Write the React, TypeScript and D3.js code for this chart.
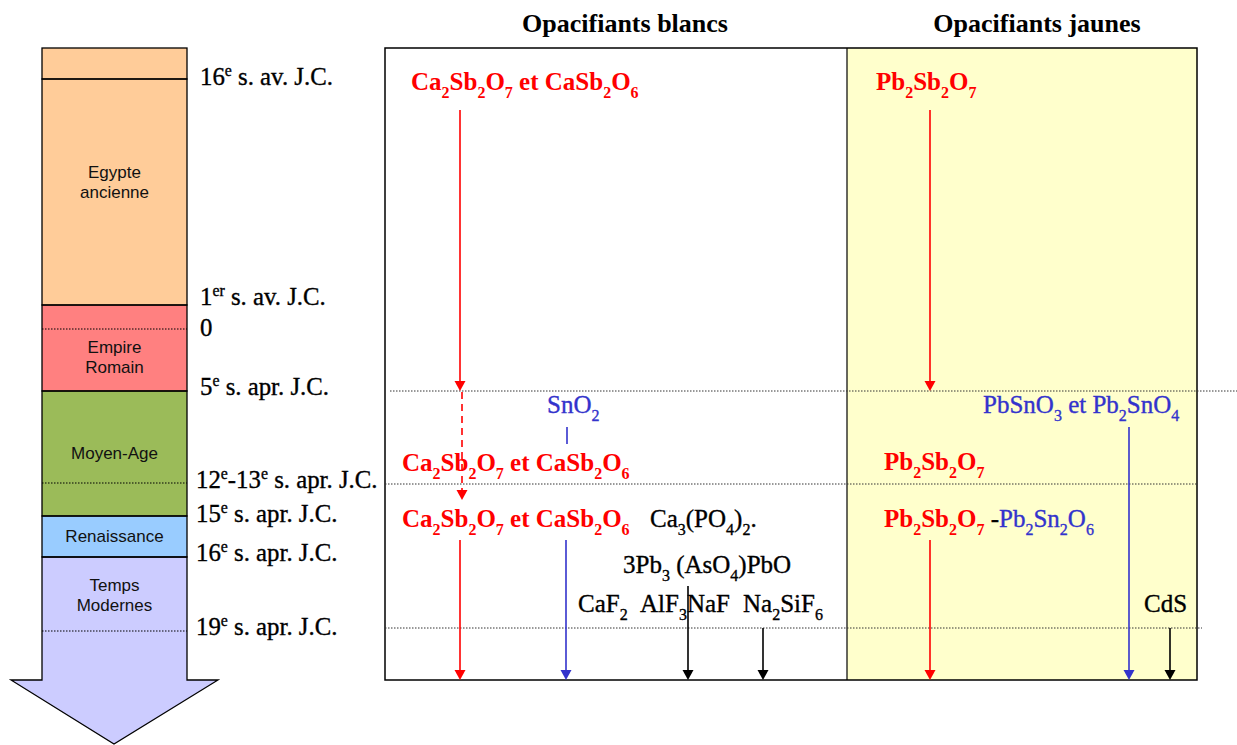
import * as d3 from 'd3'

// vertical positions are in "chart units" = pixels below the top of the frame
const periodNames = [[''], ['Egypte', 'ancienne'], ['Empire', 'Romain'], ['Moyen-Age'], ['Renaissance'], ['Temps', 'Modernes']]
const periodStart = [0, 31, 257, 343, 468, 509]
const periodEnd = [31, 257, 343, 468, 509, 632]
const periodColors = ['#FFCC99', '#FFCC99', '#FF8080', '#9BBB59', '#99CCFF', '#CCCCFF']
const periodLabelY = [0, 134, 309, 405, 488, 547]

const dateLabels = ['16^e s. av. J.C.', '1^{er} s. av. J.C.', '0', '5^e s. apr. J.C.', '12^e-13^e s. apr. J.C.', '15^e s. apr. J.C.', '16^e s. apr. J.C.', '19^e s. apr. J.C.']
const dateY = [29, 249, 280, 339, 432, 466, 505, 579]
const dateX = [200, 200, 200, 200, 196, 196, 196, 196]

const columnDotted = [281, 435, 583]

const guideY = [343, 436, 580]
const guideX1 = [390, 385, 385]
const guideX2 = [1237, 1197, 1202]

const titles = ['Opacifiants blancs', 'Opacifiants jaunes']
const titleX = [625, 1037]

type Seg = { t: string; c: string; b?: boolean }
const RED = '#FF0000'
const BLUE = '#3333CC'
const BLACK = '#000000'

const formulas: { x: number; y: number; segs: Seg[] }[] = [
  { x: 411, y: 42, segs: [{ t: 'Ca_2Sb_2O_7 et CaSb_2O_6', c: RED, b: true }] },
  { x: 876, y: 42, segs: [{ t: 'Pb_2Sb_2O_7', c: RED, b: true }] },
  { x: 547, y: 365, segs: [{ t: 'SnO_2', c: BLUE }] },
  { x: 983, y: 365, segs: [{ t: 'PbSnO_3 et Pb_2SnO_4', c: BLUE }] },
  { x: 402, y: 423, segs: [{ t: 'Ca_2Sb_2O_7 et CaSb_2O_6', c: RED, b: true }] },
  { x: 884, y: 422, segs: [{ t: 'Pb_2Sb_2O_7', c: RED, b: true }] },
  { x: 402, y: 479, segs: [{ t: 'Ca_2Sb_2O_7 et CaSb_2O_6', c: RED, b: true }] },
  { x: 650, y: 479, segs: [{ t: 'Ca_3(PO_4)_2.', c: BLACK }] },
  { x: 884, y: 479, segs: [{ t: 'Pb_2Sb_2O_7', c: RED, b: true }, { t: ' -', c: BLACK }, { t: 'Pb_2Sn_2O_6', c: BLUE }] },
  { x: 623, y: 525, segs: [{ t: '3Pb_3 (AsO_4)PbO', c: BLACK }] },
  { x: 578, y: 564, segs: [{ t: 'CaF_2', c: BLACK }] },
  { x: 640, y: 564, segs: [{ t: 'AlF_3NaF', c: BLACK }] },
  { x: 743, y: 564, segs: [{ t: 'Na_2SiF_6', c: BLACK }] },
  { x: 1144, y: 564, segs: [{ t: 'CdS', c: BLACK }] },
]

const arrowX = [460, 462, 460, 567, 566, 688, 763, 930, 930, 1129, 1170]
const arrowY1 = [62, 344, 492, 379, 492, 538, 580, 62, 492, 379, 580]
const arrowY2 = [343, 452, 632, 396, 632, 632, 632, 343, 632, 632, 632]
const arrowColor = [RED, RED, RED, BLUE, BLUE, BLACK, BLACK, RED, RED, BLUE, BLACK]
const arrowDashed = [false, true, false, false, false, false, false, false, false, false, false]
const arrowHead = [true, true, true, false, true, true, true, true, true, true, true]

const W = 1237
const H = 745
const SERIF = '"Liberation Serif", "Times New Roman", serif'
const SANS = '"Liberation Sans", Arial, sans-serif'

const y = d3.scaleLinear().domain([0, 632]).range([48, 680])
const x = d3.scaleLinear().domain([0, W]).range([0, W])

function parseRich(s: string) {
  const out: { text: string; shift: number }[] = []
  const re = /([_^])(\{[^}]*\}|.)/g
  let last = 0
  let m: RegExpExecArray | null
  while ((m = re.exec(s))) {
    if (m.index > last) out.push({ text: s.slice(last, m.index), shift: 0 })
    const t = m[2].startsWith('{') ? m[2].slice(1, -1) : m[2]
    out.push({ text: t, shift: m[1] === '_' ? 1 : -1 })
    last = re.lastIndex
  }
  if (last < s.length) out.push({ text: s.slice(last), shift: 0 })
  return out
}

function RichText({ x, y, segs, size = 25, family = SERIF }: { x: number; y: number; segs: Seg[]; size?: number; family?: string }) {
  let prev = 0
  const spans: JSX.Element[] = []
  segs.forEach((seg, si) => {
    parseRich(seg.t).forEach((p, pi) => {
      const off = p.shift === 1 ? size * 0.3 : p.shift === -1 ? -size * 0.38 : 0
      const dy = off - prev
      prev = off
      spans.push(
        <tspan key={`${si}-${pi}`} dy={dy} fill={seg.c} fontWeight={seg.b ? 'bold' : 'normal'}
          stroke={seg.b ? 'none' : seg.c} strokeWidth={seg.b ? 0 : 0.35}
          fontSize={p.shift ? size * 0.64 : size}>
          {p.text}
        </tspan>
      )
    })
  })
  return (
    <text x={x} y={y} fontFamily={family} fontSize={size} style={{ whiteSpace: 'pre' }}>
      {spans}
    </text>
  )
}

export default function App() {
  const colL = 42
  const colR = 187
  const boxL = 385
  const boxMid = 847
  const boxR = 1197
  const last = periodNames.length - 1

  return (
    <svg width={W} height={H} style={{ position: 'absolute', left: 0, top: 0, background: '#fff' }}>
      {/* timeline column */}
      {periodNames.map((_, i) => (
        <rect key={i} x={colL} y={y(periodStart[i])} width={colR - colL}
          height={y(periodEnd[i]) - y(periodStart[i])} fill={periodColors[i]} />
      ))}
      <path
        d={`M${colL},${y(periodStart[last])} L${colR},${y(periodStart[last])} L${colR},${y(632)} L218,${y(632)} L114,744 L11,${y(632)} L${colL},${y(632)} Z`}
        fill={periodColors[last]} stroke="#000" strokeWidth={1.3} />
      {periodNames.slice(0, last).map((_, i) => (
        <rect key={i} x={colL} y={y(periodStart[i])} width={colR - colL}
          height={y(periodEnd[i]) - y(periodStart[i])} fill="none" stroke="#000" strokeWidth={1.3} />
      ))}
      {columnDotted.map((v, i) => (
        <line key={i} x1={colL} x2={colR} y1={y(v)} y2={y(v)} stroke="#000" strokeWidth={1} strokeDasharray="1.5,1.5" />
      ))}
      {periodNames.map((lines, i) => (
        <text key={i} x={(colL + colR) / 2} y={y(periodLabelY[i])} textAnchor="middle" fontFamily={SANS} fontSize={17} fill="#111">
          {lines.map((l, j) => (
            <tspan key={j} x={(colL + colR) / 2} dy={j === 0 ? (lines.length === 1 ? 6 : -4) : 20}>{l}</tspan>
          ))}
        </text>
      ))}
      {dateLabels.map((d, i) => (
        <RichText key={i} x={dateX[i]} y={y(dateY[i]) + 8} segs={[{ t: d, c: BLACK }]} size={24.8} />
      ))}

      {/* frames */}
      <rect x={boxMid} y={y(0)} width={boxR - boxMid} height={y(632) - y(0)} fill="#FFFFCC" />
      <rect x={boxL} y={y(0)} width={boxR - boxL} height={y(632) - y(0)} fill="none" stroke="#000" strokeWidth={1.5} />
      <line x1={boxMid} x2={boxMid} y1={y(0)} y2={y(632)} stroke="#000" strokeWidth={1.2} />

      {titles.map((t, i) => (
        <text key={i} x={titleX[i]} y={32} textAnchor="middle" fontFamily={SERIF} fontWeight="bold" fontSize={26}>{t}</text>
      ))}

      {guideY.map((v, i) => (
        <line key={i} x1={x(guideX1[i])} x2={x(guideX2[i])} y1={y(v)} y2={y(v)} stroke="#333" strokeWidth={1} strokeDasharray="1.5,1.5" />
      ))}

      {formulas.map((f, i) => (
        <RichText key={i} x={x(f.x)} y={y(f.y)} segs={f.segs} />
      ))}

      {arrowX.map((ax, i) => {
        const x0 = x(ax)
        const y1 = y(arrowY1[i])
        const y2 = y(arrowY2[i])
        const hh = arrowHead[i] ? 10 : 0
        return (
          <g key={i}>
            <line x1={x0} x2={x0} y1={y1} y2={y2 - hh} stroke={arrowColor[i]} strokeWidth={1.6}
              strokeDasharray={arrowDashed[i] ? '7,5' : undefined} />
            {arrowHead[i] && (
              <path d={`M${x0 - 5.5},${y2 - hh} L${x0 + 5.5},${y2 - hh} L${x0},${y2} Z`} fill={arrowColor[i]} />
            )}
          </g>
        )
      })}
    </svg>
  )
}
